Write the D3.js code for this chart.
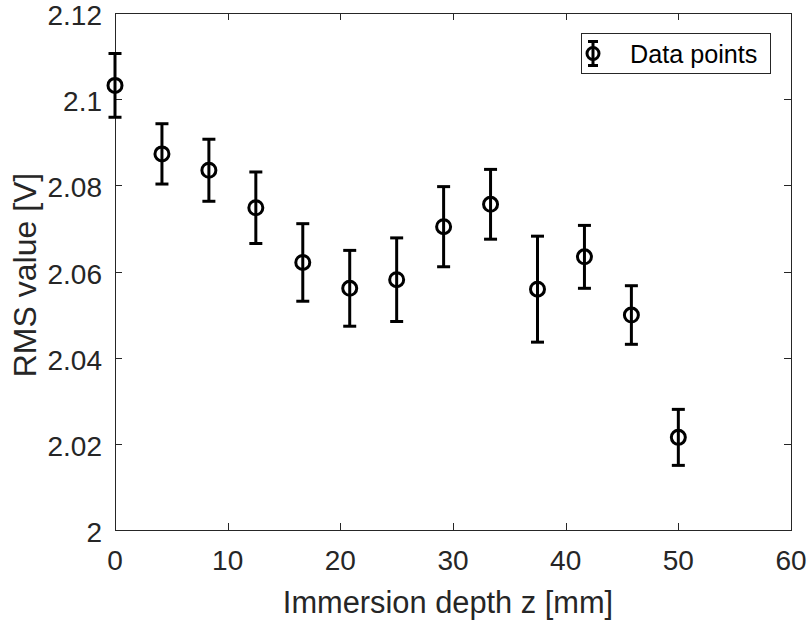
<!DOCTYPE html>
<html>
<head>
<meta charset="utf-8">
<script src="https://cdn.jsdelivr.net/npm/d3@7"></script>
<style>
  body { margin: 0; background: white; }
  svg { display: block; font-family: "Liberation Sans", Arial, sans-serif; }
</style>
</head>
<body>
<div id="chart"></div>
<script>
// immersion depth (mm)
const depth = [0, 4.167, 8.333, 12.5, 16.667, 20.833, 25, 29.167, 33.333, 37.5, 41.667, 45.833, 50];
// RMS value (V)
const rms = [2.1032, 2.0873, 2.0835, 2.0748, 2.0621, 2.0561, 2.0581, 2.0704, 2.0756, 2.0559, 2.0634, 2.0499, 2.0215];
// half-width of error bars (V)
const err = [0.0074, 0.0070, 0.0072, 0.0083, 0.0090, 0.0088, 0.0097, 0.0093, 0.0081, 0.0123, 0.0073, 0.0068, 0.0065];

const xTicks = [0, 10, 20, 30, 40, 50, 60];
const yTicks = [2, 2.02, 2.04, 2.06, 2.08, 2.1, 2.12];

const W = 807, H = 623;
const margin = { top: 13, right: 16, bottom: 93, left: 115 };
const axisColor = '#262626';

const svg = d3.select('#chart')
    .append('svg')
    .attr('width', W)
    .attr('height', H);

const x = d3.scaleLinear().domain([0, 60]).range([margin.left, W - margin.right]);
const y = d3.scaleLinear().domain([2, 2.12]).range([H - margin.bottom, margin.top]);

// box
svg.append('rect')
    .attr('x', x(0) + 0.5)
    .attr('y', y(2.12) + 0.5)
    .attr('width', x(60) - x(0))
    .attr('height', y(2) - y(2.12))
    .attr('fill', 'none')
    .attr('stroke', axisColor)
    .attr('stroke-width', 1);

const tickLen = 7;

// x ticks, bottom and top, pointing inward
const xAxisG = svg.append('g');
xTicks.forEach(t => {
    const px = Math.round(x(t)) + 0.5;
    xAxisG.append('line').attr('x1', px).attr('x2', px)
        .attr('y1', y(2)).attr('y2', y(2) - tickLen)
        .attr('stroke', axisColor);
    xAxisG.append('line').attr('x1', px).attr('x2', px)
        .attr('y1', y(2.12)).attr('y2', y(2.12) + tickLen)
        .attr('stroke', axisColor);
    xAxisG.append('text')
        .attr('x', x(t))
        .attr('y', y(2) + 40)
        .attr('text-anchor', 'middle')
        .attr('fill', axisColor)
        .style('font-size', '28px')
        .text(t);
});

const yAxisG = svg.append('g');
yTicks.forEach(t => {
    const py = Math.round(y(t)) + 0.5;
    yAxisG.append('line').attr('x1', x(0)).attr('x2', x(0) + tickLen)
        .attr('y1', py).attr('y2', py)
        .attr('stroke', axisColor);
    yAxisG.append('line').attr('x1', x(60)).attr('x2', x(60) - tickLen)
        .attr('y1', py).attr('y2', py)
        .attr('stroke', axisColor);
    yAxisG.append('text')
        .attr('x', x(0) - 13)
        .attr('y', y(t) + 12)
        .attr('text-anchor', 'end')
        .attr('fill', axisColor)
        .style('font-size', '28px')
        .text(d3.format('~g')(t));
});

// axis titles
svg.append('text')
    .attr('x', 448)
    .attr('y', 613)
    .attr('text-anchor', 'middle')
    .attr('fill', axisColor)
    .style('font-size', '30.8px')
    .text('Immersion depth z [mm]');

svg.append('text')
    .attr('transform', `translate(36, 275) rotate(-90)`)
    .attr('text-anchor', 'middle')
    .attr('fill', axisColor)
    .style('font-size', '32px')
    .text('RMS value [V]');

// error bars
const data = depth.map((d, i) => ({ z: d, v: rms[i], e: err[i] }));
const capHalf = 6.5;
const lw = 3;

const bars = svg.append('g').selectAll('g')
    .data(data)
    .enter().append('g');

bars.append('line')
    .attr('x1', d => x(d.z)).attr('x2', d => x(d.z))
    .attr('y1', d => y(d.v - d.e)).attr('y2', d => y(d.v + d.e))
    .attr('stroke', 'black').attr('stroke-width', lw);
bars.append('line')
    .attr('x1', d => x(d.z) - capHalf).attr('x2', d => x(d.z) + capHalf)
    .attr('y1', d => y(d.v + d.e)).attr('y2', d => y(d.v + d.e))
    .attr('stroke', 'black').attr('stroke-width', lw);
bars.append('line')
    .attr('x1', d => x(d.z) - capHalf).attr('x2', d => x(d.z) + capHalf)
    .attr('y1', d => y(d.v - d.e)).attr('y2', d => y(d.v - d.e))
    .attr('stroke', 'black').attr('stroke-width', lw);
bars.append('circle')
    .attr('cx', d => x(d.z))
    .attr('cy', d => y(d.v))
    .attr('r', 7)
    .attr('fill', 'none')
    .attr('stroke', 'black')
    .attr('stroke-width', lw);

// legend
const lg = svg.append('g');
lg.append('rect')
    .attr('x', 581.5).attr('y', 33.5)
    .attr('width', 189).attr('height', 40)
    .attr('fill', 'white')
    .attr('stroke', axisColor)
    .attr('stroke-width', 1);
const lx = 593, ly = 53.5;
lg.append('line').attr('x1', lx).attr('x2', lx).attr('y1', ly - 12).attr('y2', ly + 12)
    .attr('stroke', 'black').attr('stroke-width', lw);
lg.append('line').attr('x1', lx - 5).attr('x2', lx + 5).attr('y1', ly - 12).attr('y2', ly - 12)
    .attr('stroke', 'black').attr('stroke-width', lw);
lg.append('line').attr('x1', lx - 5).attr('x2', lx + 5).attr('y1', ly + 12).attr('y2', ly + 12)
    .attr('stroke', 'black').attr('stroke-width', lw);
lg.append('circle').attr('cx', lx).attr('cy', ly).attr('r', 6)
    .attr('fill', 'none').attr('stroke', 'black').attr('stroke-width', lw);
lg.append('text')
    .attr('x', 630).attr('y', ly + 9)
    .attr('fill', 'black')
    .style('font-size', '25.2px')
    .text('Data points');
</script>
</body>
</html>
